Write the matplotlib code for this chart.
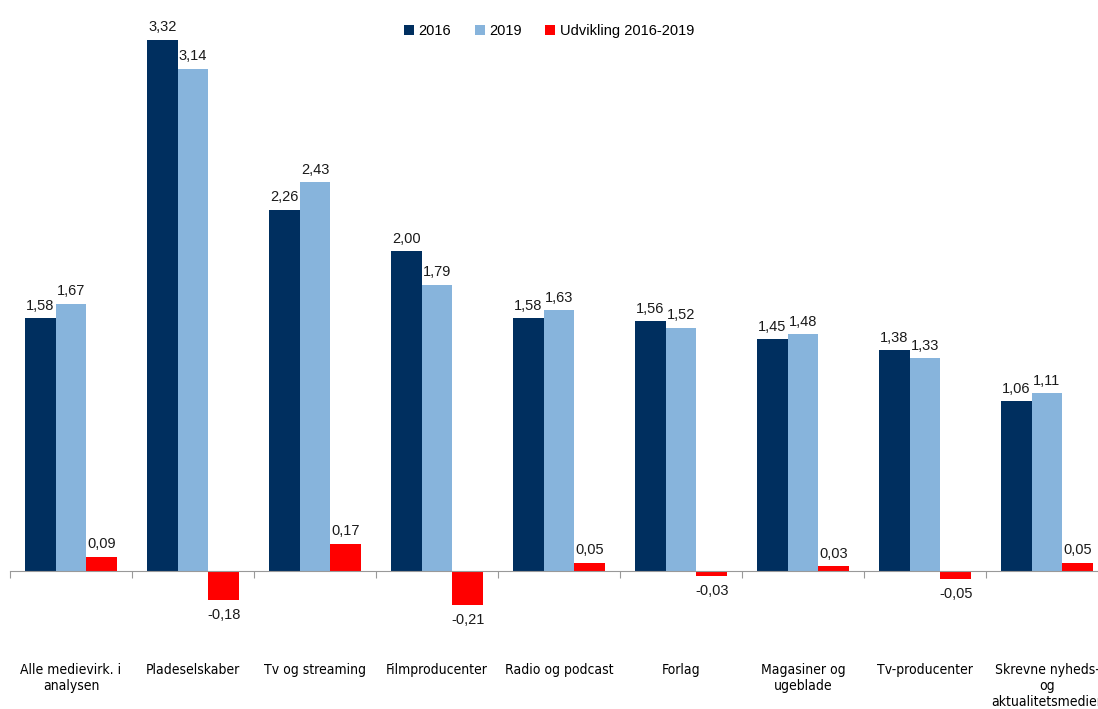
import numpy as np
import matplotlib.pyplot as plt

# === Data ===
categories = ["Alle medievirk. i\nanalysen", "Pladeselskaber", "Tv og streaming",
              "Filmproducenter", "Radio og podcast", "Forlag",
              "Magasiner og\nugeblade", "Tv-producenter",
              "Skrevne nyheds-\nog\naktualitetsmedier"]
v2016 = [1.58, 3.32, 2.26, 2.00, 1.58, 1.56, 1.45, 1.38, 1.06]
v2019 = [1.67, 3.14, 2.43, 1.79, 1.63, 1.52, 1.48, 1.33, 1.11]
change = [0.09, -0.18, 0.17, -0.21, 0.05, -0.03, 0.03, -0.05, 0.05]
series_names = ["2016", "2019", "Udvikling 2016-2019"]

c2016 = "#002F5F"
c2019 = "#87B4DC"
cchg = "#FF0000"

plt.rcParams['font.family'] = ['Liberation Sans', 'DejaVu Sans']

fig = plt.figure(figsize=(10.98, 7.09), dpi=100)
# axes runs past the right edge, like the cropped original
ax_bottom_px = 619
ax = fig.add_axes([10 / 1098, (709 - ax_bottom_px) / 709, 1098 / 1098, ax_bottom_px / 709])

n = len(categories)
x = np.arange(n)
w = 0.252
b1 = ax.bar(x - w, v2016, w, color=c2016, label=series_names[0])
b2 = ax.bar(x, v2019, w, color=c2019, label=series_names[1])
b3 = ax.bar(x + w, change, w, color=cchg, label=series_names[2])

def fmt(v):
    return f"{v:.2f}".replace(".", ",")

for bars, vals in [(b1, v2016), (b2, v2019), (b3, change)]:
    for rect, v in zip(bars, vals):
        cx = rect.get_x() + rect.get_width() / 2
        if v >= 0:
            ax.annotate(fmt(v), (cx, v), xytext=(0, 4), textcoords="offset points",
                        ha="center", va="bottom", fontsize=10.5, color="#1a1a1a")
        else:
            ax.annotate(fmt(v), (cx, v), xytext=(0, -6), textcoords="offset points",
                        ha="center", va="top", fontsize=10.5, color="#1a1a1a")

ax.set_xlim(-0.5, n - 0.5)
ax.set_ylim(-0.3, 3.57)

for s in ["top", "right", "left"]:
    ax.spines[s].set_visible(False)
ax.spines["bottom"].set_position(("data", 0))
ax.spines["bottom"].set_color("#999999")
ax.set_yticks([])

# ticks at category boundaries, labels at centres
ax.set_xticks(np.arange(n + 1) - 0.5)
ax.set_xticklabels([])
ax.tick_params(axis="x", which="major", length=5, color="#999999", direction="out")
ax.set_xticks(x, minor=True)
ax.set_xticklabels(categories, minor=True, fontsize=10, fontstretch="condensed",
                   family=['DejaVu Sans'])
ax.tick_params(axis="x", which="minor", length=0, pad=66)

fig.legend(loc="upper center", bbox_to_anchor=(0.50, 0.985), ncol=3, frameon=False,
           fontsize=10.5, handlelength=0.7, handleheight=0.7, handletextpad=0.3,
           columnspacing=1.6)

fig.savefig("out.png", dpi=100)
